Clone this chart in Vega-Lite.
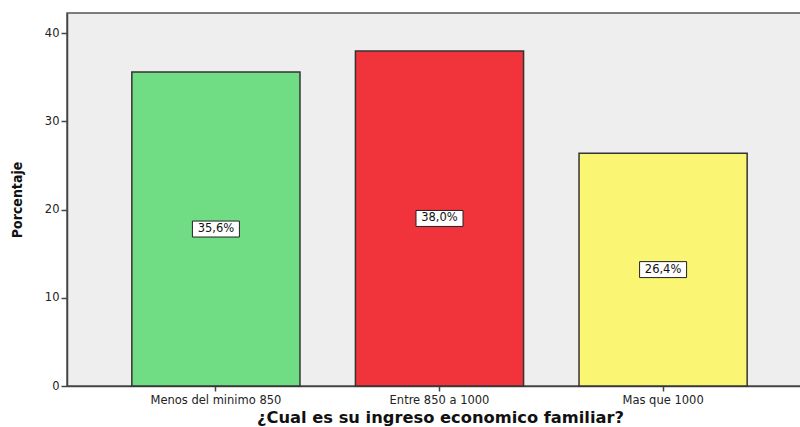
{
  "$schema": "https://vega.github.io/schema/vega-lite/v6.json",
  "autosize": {"type": "none"},
  "padding": {"left": 67, "top": 13, "right": 0, "bottom": 41},
  "width": 745,
  "height": 373,
  "background": "white",
  "data": {
    "values": [
      {"cat": "Menos del minimo 850", "pct": 35.6, "label": "35,6%"},
      {"cat": "Entre 850 a 1000", "pct": 38.0, "label": "38,0%"},
      {"cat": "Mas que 1000", "pct": 26.4, "label": "26,4%"}
    ]
  },
  "config": {
    "view": {"fill": "#EEEEEE", "stroke": "#555555", "strokeWidth": 1.5},
    "axis": {
      "labelFont": "DejaVu Sans",
      "labelFontSize": 11.5,
      "labelColor": "#222222",
      "titleFont": "DejaVu Sans",
      "titleFontWeight": "bold",
      "titleColor": "#111111",
      "domainColor": "#444444",
      "domainWidth": 1.5,
      "tickColor": "#444444",
      "tickWidth": 1.5,
      "grid": false
    }
  },
  "encoding": {
    "x": {
      "field": "cat",
      "type": "nominal",
      "sort": null,
      "scale": {"paddingInner": 0.248, "paddingOuter": 0.29},
      "axis": {
        "title": "¿Cual es su ingreso economico familiar?",
        "titleFontSize": 16.3,
        "titleBaseline": "middle",
        "titleY": 31,
        "titleX": 373,
        "labelAngle": 0,
        "labelPadding": 3,
        "tickSize": 5
      }
    }
  },
  "layer": [
    {
      "mark": {"type": "bar", "stroke": "#333333", "strokeWidth": 1.5},
      "encoding": {
        "y": {
          "field": "pct",
          "type": "quantitative",
          "scale": {"domain": [0, 42.3], "nice": false},
          "axis": {
            "title": "Porcentaje",
            "values": [0, 10, 20, 30, 40],
            "titleFontSize": 14,
            "titleFont": "DejaVu Sans Condensed",
            "titleX": -50,
            "titleBaseline": "middle",
            "tickSize": 6,
            "labelPadding": 2
          }
        },
        "color": {
          "field": "cat",
          "type": "nominal",
          "sort": null,
          "scale": {"range": ["#70DD85", "#F1333B", "#FAF673"]},
          "legend": null
        }
      }
    },
    {
      "encoding": {
        "y": {
          "field": "pct",
          "type": "quantitative",
          "scale": {"domain": [0, 84.6], "nice": false},
          "axis": null
        }
      },
      "layer": [
        {
          "mark": {
            "type": "point",
            "shape": "M-1,-0.34L1,-0.34L1,0.34L-1,0.34Z",
            "size": 2209,
            "filled": true,
            "fill": "white",
            "stroke": "#222222",
            "strokeWidth": 1,
            "opacity": 1
          }
        },
        {
          "mark": {"type": "text", "font": "DejaVu Sans", "fontSize": 11.5, "color": "#111111"},
          "encoding": {
            "text": {"field": "label"}
          }
        }
      ]
    }
  ],
  "resolve": {"scale": {"y": "independent"}}
}
